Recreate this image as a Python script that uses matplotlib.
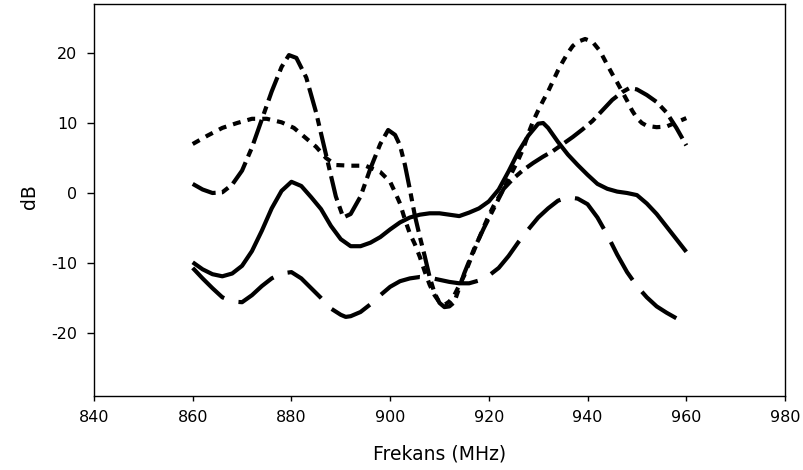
import matplotlib
matplotlib.use("Agg")
import matplotlib.pyplot as plt

# Frequency response of four antenna configurations (dB vs MHz)
solid_f = [860, 862, 864, 866, 868, 870, 872, 874, 876, 878, 880, 882, 884, 886, 888,
           890, 892, 894, 896, 898, 900, 902, 904, 906, 908, 910, 912, 914, 916, 918,
           920, 922, 924, 926, 928, 930, 931, 932, 934, 936, 938, 940, 942, 944, 946,
           948, 950, 952, 954, 956, 958, 960]
solid_db = [-9.9, -10.9, -11.6, -11.9, -11.5, -10.4, -8.3, -5.4, -2.2, 0.3, 1.6, 1.0, -0.6,
            -2.3, -4.7, -6.6, -7.6, -7.6, -7.1, -6.3, -5.2, -4.2, -3.5, -3.1, -2.9, -2.9,
            -3.1, -3.3, -2.8, -2.2, -1.2, 0.5, 3.1, 5.9, 8.2, 9.9, 10.0, 9.3, 7.3, 5.5, 4.0,
            2.6, 1.3, 0.6, 0.2, 0.0, -0.3, -1.5, -3.0, -4.8, -6.6, -8.4]

longdash_f = [860, 862, 864, 866, 868, 870, 872, 874, 876, 878, 880, 882, 884, 886, 888,
              890, 891, 892, 894, 896, 898, 900, 902, 904, 906, 908, 910, 912, 914, 916,
              918, 920, 922, 924, 926, 928, 930, 932, 934, 936, 938, 940, 942, 944, 946,
              948, 950, 952, 954, 956, 958, 960]
longdash_db = [-10.7, -12.2, -13.6, -14.9, -15.5, -15.6, -14.6, -13.3, -12.2, -11.5, -11.3,
               -12.2, -13.6, -15.0, -16.5, -17.4, -17.7, -17.6, -17.0, -15.9, -14.6, -13.4,
               -12.6, -12.2, -12.0, -12.1, -12.4, -12.7, -12.9, -12.9, -12.5, -11.8, -10.7,
               -9.0, -7.0, -5.2, -3.5, -2.2, -1.1, -0.6, -0.8, -1.6, -3.5, -6.0, -8.8, -11.3,
               -13.3, -14.9, -16.2, -17.1, -17.9, -18.6]

dashdot_f = [860, 862, 864, 866, 868, 870, 872, 874, 876, 878, 879.5, 881, 883, 885, 887,
             889, 890.5, 892, 894, 896, 898, 899.6, 901, 902, 903, 904, 905, 906, 907, 908,
             909, 910, 911, 912, 913, 915, 917, 919, 921, 923, 925, 927, 929, 931, 933, 935,
             937, 939, 941, 943, 945, 947, 948.5, 950, 952, 954, 956, 958, 960]
dashdot_db = [1.3, 0.5, 0.0, 0.1, 1.2, 3.2, 6.5, 10.5, 14.5, 18.0, 19.7, 19.3, 16.5, 11.5,
              5.5, -0.5, -3.5, -3.0, -0.5, 3.5, 7.0, 9.0, 8.3, 6.8, 4.0, 0.5, -3.2, -6.2,
              -9.0, -12.0, -14.3, -15.7, -16.3, -16.2, -15.6, -11.5, -8.0, -5.0, -2.2, 0.6,
              2.1, 3.3, 4.3, 5.2, 6.0, 7.0, 8.0, 9.1, 10.3, 11.8, 13.3, 14.4, 15.0, 14.8,
              14.0, 13.0, 11.5, 9.3, 6.8]

dotted_f = [860, 863, 866, 869, 872, 875, 878, 880.5, 883, 885, 887, 889, 892, 895, 898,
            900, 901, 902, 903, 904, 905, 906, 907, 908, 909, 910, 911, 912, 913, 914, 915,
            916, 917, 918, 919, 920, 921, 922, 923, 924, 925, 926, 927, 928, 929, 930, 931,
            932, 933, 934, 935, 936, 937, 938, 939.5, 941, 942.5, 944, 945, 946, 947, 948,
            949, 950, 951, 952, 954, 956, 958, 960]
dotted_db = [7.0, 8.2, 9.3, 10.0, 10.6, 10.6, 10.1, 9.3, 7.8, 6.6, 5.0, 4.0, 3.9, 3.9, 3.0,
             1.6, 0.1, -1.5, -3.8, -5.8, -7.3, -9.1, -11.2, -13.1, -14.6, -15.6, -16.0,
             -15.5, -14.6, -13.2, -11.8, -10.0, -8.2, -6.5, -4.8, -3.2, -1.8, -0.6, 0.6,
             2.0, 3.4, 4.8, 6.4, 8.5, 10.3, 11.8, 13.2, 14.5, 16.0, 17.5, 18.8, 20.0, 21.0,
             21.6, 22.0, 21.6, 20.3, 18.3, 17.0, 15.8, 14.5, 13.2, 11.8, 10.7, 10.0, 9.6,
             9.4, 9.5, 10.1, 10.7]

x_ticks = [840, 860, 880, 900, 920, 940, 960, 980]
y_ticks = [-20, -10, 0, 10, 20]

plt.rcParams['font.family'] = ['DejaVu Sans']
plt.rcParams['axes.unicode_minus'] = False

fig = plt.figure(figsize=(8.04, 4.70), dpi=100)
ax = fig.add_axes([94 / 804, 1 - 396 / 470, 691 / 804, 392 / 470])

lw = 3.0
common = dict(color='black', linewidth=lw, solid_capstyle='butt', dash_capstyle='butt',
              solid_joinstyle='round', dash_joinstyle='round')
ax.plot(solid_f, solid_db, linestyle='-', **common)
ax.plot(longdash_f, longdash_db, linestyle=(0, (10.5, 3.6)), **common)
ax.plot(dashdot_f, dashdot_db, linestyle=(0, (6.0, 1.5, 1.9, 1.5)), **common)
ax.plot(dotted_f, dotted_db, linestyle=(0, (1.9, 1.7)), **common)

ax.set_xlim(840, 980)
ax.set_ylim(-29, 27)
ax.set_xticks(x_ticks)
ax.set_yticks(y_ticks)
ax.tick_params(axis='x', direction='out', length=3.8, width=1.0, pad=6.5, labelsize=11.5)
ax.tick_params(axis='y', direction='out', length=5.0, width=1.0, pad=7.0, labelsize=11.5)
for sp in ax.spines.values():
    sp.set_linewidth(1.0)
    sp.set_color('black')

ax.set_xlabel('Frekans (MHz)', fontsize=13.5)
ax.set_ylabel('dB', fontsize=13.5)
ax.xaxis.set_label_coords(0.5, -0.125)
ax.yaxis.set_label_coords(-0.08, 0.51)

fig.savefig('out.png', dpi=100)
